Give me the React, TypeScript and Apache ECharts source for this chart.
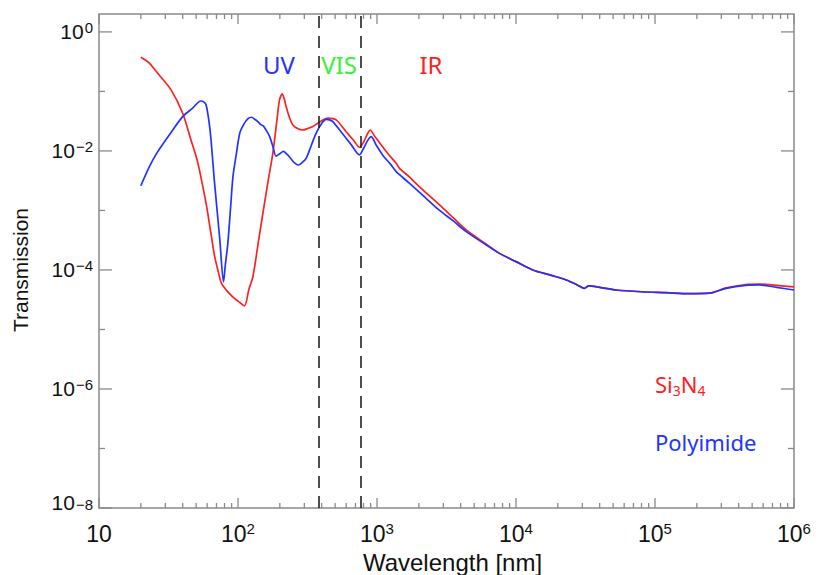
import React, { useEffect, useRef } from 'react';
import * as echarts from 'echarts';

// Si3N4 membrane transmission
const siWavelength = [20, 23, 27, 33, 40, 46, 51, 55, 59, 64, 68, 72, 76, 83, 92, 100, 111, 120, 128, 140, 151, 165, 178, 190, 199, 208, 215, 222, 235, 248, 270, 292, 320, 345, 390, 443, 508, 600, 680, 748, 800, 850, 893, 959, 1050, 1200, 1374, 1452, 1700, 2100, 2820, 3500, 4385, 6000, 7600, 10000, 13200, 18000, 23000, 28000, 31000, 33400, 40000, 52600, 80000, 120000, 177000, 246000, 325000, 450000, 565000, 750000, 1000000];
const siTransmission = [0.376, 0.3, 0.19, 0.106, 0.043, 0.015, 0.0068, 0.003, 0.0013, 4e-4, 1.67e-4, 9.5e-5, 6e-5, 4.5e-5, 3.5e-5, 3.0e-5, 2.5e-5, 4.8e-5, 7.7e-5, 2.9e-4, 8.9e-4, 3.2e-3, 9.1e-3, 0.031, 0.072, 0.091, 0.075, 0.056, 0.036, 0.0273, 0.0235, 0.0225, 0.024, 0.0257, 0.031, 0.0355, 0.0332, 0.021, 0.015, 0.0115, 0.014, 0.019, 0.0225, 0.0179, 0.0135, 0.009, 0.0062, 0.0051, 0.0037, 0.0023, 0.00124, 0.00077, 0.00047, 0.00028, 0.00019, 0.000138, 0.0001, 8.1e-5, 6.8e-5, 5.5e-5, 4.9e-5, 5.4e-5, 5.1e-5, 4.6e-5, 4.3e-5, 4.15e-5, 4.0e-5, 4.07e-5, 5.0e-5, 5.7e-5, 5.8e-5, 5.5e-5, 5.2e-5];

// Polyimide membrane transmission
const piWavelength = [20, 23, 26, 32, 40, 47, 54, 57, 59, 62, 64, 67, 70, 74, 78.7, 81, 84.5, 88, 92, 97, 103, 110, 118, 125, 132, 139, 145, 147, 152, 160, 169, 178, 188, 200, 212, 225, 238, 255, 272, 290, 310, 335, 365, 400, 431, 460, 481, 560, 650, 748, 800, 860, 908, 986, 1100, 1250, 1374, 1452, 1700, 2100, 2820, 3500, 4385, 6000, 7600, 10000, 13200, 18000, 23000, 28000, 31000, 33400, 40000, 52600, 80000, 120000, 177000, 246000, 325000, 450000, 565000, 750000, 1000000];
const piTransmission = [2.6e-3, 5.4e-3, 9.1e-3, 0.0185, 0.0377, 0.052, 0.069, 0.066, 0.059, 0.03, 0.0153, 4e-3, 1.3e-3, 3.2e-4, 6.3e-5, 1.2e-4, 2.8e-4, 9.5e-4, 3.7e-3, 8.5e-3, 0.02, 0.028, 0.035, 0.0368, 0.034, 0.031, 0.028, 0.0274, 0.0263, 0.022, 0.0174, 0.012, 0.0082, 0.009, 0.0098, 0.0088, 0.0076, 0.0063, 0.0058, 0.0064, 0.0076, 0.012, 0.02, 0.029, 0.034, 0.033, 0.031, 0.02, 0.0129, 0.0086, 0.011, 0.0152, 0.0174, 0.0126, 0.0085, 0.006, 0.0045, 0.004, 0.0029, 0.00186, 0.001, 0.00068, 0.00044, 0.00027, 0.00019, 0.000138, 0.0001, 8.1e-5, 6.8e-5, 5.5e-5, 4.9e-5, 5.4e-5, 5.1e-5, 4.6e-5, 4.3e-5, 4.15e-5, 4.0e-5, 4.07e-5, 4.9e-5, 5.5e-5, 5.6e-5, 5.1e-5, 4.6e-5];

// visible band boundaries (nm)
const regionBounds = [380, 760];

// axes
const xMajorTicks = [10, 100, 1000, 10000, 100000, 1000000];
const xTickSup = ['', '2', '3', '4', '5', '6'];
const xMinorTicks: number[] = [];
[10, 100, 1000, 10000, 100000].forEach((d) => {
  [2, 3, 4, 5, 6, 7, 8, 9].forEach((k) => xMinorTicks.push(k * d));
});
const yMin = 1e-8;
const yMax = 2;
const yMajorTicks = [1e-8, 1e-6, 1e-4, 1e-2, 1];
const yTickSup = ['\u22128', '\u22126', '\u22124', '\u22122', '0'];
const yMinorTicks = [1e-7, 1e-5, 1e-3, 1e-1];

const RED = '#ff2020';
const BLUE = '#2233ff';
const GREEN = '#3cef3c';
const AXIS = '#8a8a8a';
const TXT = '#111111';
const FONT = 'Liberation Sans';
const LFONT = 'Noto Sans';

const lg = Math.log10;
const findIdx = (arr: number[], v: number) =>
  v > 0 ? arr.findIndex((t) => Math.abs(lg(v) - lg(t)) < 1e-6) : -1;

export default function App() {
  const ref = useRef<HTMLDivElement>(null);
  useEffect(() => {
    document.body.style.margin = '0';
    const chart = echarts.init(ref.current!, null, { renderer: 'svg' });
    const tickData = [
      ...xMajorTicks.map((v) => [v, 1, 0]),
      ...xMinorTicks.map((v) => [v, 1, 1]),
      ...yMajorTicks.map((v) => [10, v, 2]),
      ...yMinorTicks.map((v) => [10, v, 3]),
    ];
    chart.setOption({
      animation: false,
      grid: {
        left: 99,
        top: 14,
        right: 23,
        bottom: 67,
        outerBoundsMode: 'none',
        containLabel: false,
        show: true,
        borderColor: AXIS,
        borderWidth: 1.5,
        backgroundColor: 'transparent',
      },
      xAxis: {
        type: 'log',
        logBase: 10,
        min: 10,
        max: 1000000,
        axisLine: { show: false, lineStyle: { color: TXT } },
        axisTick: { show: false },
        splitLine: { show: false },
        axisLabel: {
          margin: 13,
          interval: 0,
          color: TXT,
          formatter: (v: number) => {
            const i = findIdx(xMajorTicks, v);
            if (i < 0) return '';
            return xTickSup[i] ? `{b|10}{s|${xTickSup[i]}}` : '{b|10}';
          },
          rich: {
            b: { fontSize: 23, lineHeight: 25, fontFamily: FONT, color: TXT },
            s: { fontSize: 15, lineHeight: 15, fontFamily: FONT, color: TXT, verticalAlign: 'top' },
          },
        },
        name: 'Wavelength [nm]',
        nameLocation: 'middle',
        nameMoveOverlap: false,
        nameGap: 42,
        nameTextStyle: { fontSize: 24, fontFamily: FONT, color: TXT, padding: [0, 0, 0, 12] },
      },
      yAxis: {
        type: 'log',
        logBase: 10,
        min: yMin,
        max: yMax,
        axisLine: { show: false, lineStyle: { color: TXT } },
        axisTick: { show: false },
        splitLine: { show: false },
        axisLabel: {
          margin: 6,
          interval: 0,
          color: TXT,
          formatter: (v: number) => {
            const i = findIdx(yMajorTicks, v);
            if (i < 0) return '';
            if (i === 0) return `{b8|10}{s|${yTickSup[i]}}`;
            return `{b|10}{s|${yTickSup[i]}}`;
          },
          rich: {
            b: { fontSize: 21, lineHeight: 23, fontFamily: FONT, color: TXT },
            b8: { fontSize: 21, lineHeight: 23, fontFamily: FONT, color: TXT, padding: [0, 0, 12, 0] },
            s: { fontSize: 15, lineHeight: 15, fontFamily: FONT, color: TXT, verticalAlign: 'top', padding: [0, 0, 0, 1] },
          },
        },
        name: 'Transmission',
        nameLocation: 'middle',
        nameMoveOverlap: false,
        nameGap: 68,
        nameTextStyle: { fontSize: 21, fontFamily: FONT, color: TXT, padding: [0, 18, 0, 0] },
      },
      series: [
        {
          name: 'Si3N4',
          type: 'line',
          data: siWavelength.map((w, i) => [w, siTransmission[i]]),
          showSymbol: false,
          smooth: 0.3,
          lineStyle: { color: RED, width: 1.7 },
          itemStyle: { color: RED },
          z: 3,
          markLine: {
            silent: true,
            symbol: ['none', 'none'],
            label: { show: false },
            lineStyle: { color: '#222', width: 1.6, type: [12, 8] },
            data: regionBounds.map((b) => ({ xAxis: b })),
          },
        },
        {
          name: 'Polyimide',
          type: 'line',
          data: piWavelength.map((w, i) => [w, piTransmission[i]]),
          showSymbol: false,
          smooth: 0.3,
          lineStyle: { color: BLUE, width: 1.7 },
          itemStyle: { color: BLUE },
          z: 4,
        },
        {
          type: 'custom',
          silent: true,
          z: 6,
          encode: { x: 0, y: 1 },
          data: tickData,
          renderItem: (params: any, api: any) => {
            const kind = api.value(2);
            const p = api.coord([api.value(0), api.value(1)]);
            const cs = params.coordSys;
            const style = { stroke: AXIS, lineWidth: 1.3 };
            if (kind <= 1) {
              const len = kind === 0 ? 10 : 5;
              const b = cs.y + cs.height;
              const t = cs.y;
              return {
                type: 'group',
                children: [
                  { type: 'line', shape: { x1: p[0], y1: b, x2: p[0], y2: b - len }, style },
                  { type: 'line', shape: { x1: p[0], y1: t, x2: p[0], y2: t + len }, style },
                ],
              };
            }
            const len = kind === 2 ? 13 : 6;
            const l = cs.x;
            const r = cs.x + cs.width;
            return {
              type: 'group',
              children: [
                { type: 'line', shape: { x1: l, y1: p[1], x2: l + len, y2: p[1] }, style },
                { type: 'line', shape: { x1: r, y1: p[1], x2: r - len, y2: p[1] }, style },
              ],
            };
          },
        },
      ],
      graphic: [
        { type: 'text', x: 279, y: 64, style: { text: 'UV', fill: BLUE, fontSize: 24, fontFamily: LFONT, align: 'center', verticalAlign: 'middle' } },
        { type: 'text', x: 339, y: 64, style: { text: 'VIS', fill: GREEN, fontSize: 24, fontFamily: LFONT, align: 'center', verticalAlign: 'middle' } },
        { type: 'text', x: 431, y: 64, style: { text: 'IR', fill: RED, fontSize: 24, fontFamily: LFONT, align: 'center', verticalAlign: 'middle' } },
        {
          type: 'text',
          x: 655,
          y: 384,
          style: {
            text: '{a|Si}{s|3}{a|N}{s|4}',
            align: 'left',
            verticalAlign: 'middle',
            rich: {
              a: { fontSize: 22, lineHeight: 26, fontFamily: LFONT, fill: RED, color: RED },
              s: { fontSize: 14, lineHeight: 14, fontFamily: LFONT, fill: RED, color: RED, verticalAlign: 'bottom' },
            },
          },
        },
        { type: 'text', x: 655, y: 442, style: { text: 'Polyimide', fill: BLUE, fontSize: 22, fontFamily: LFONT, align: 'left', verticalAlign: 'middle' } },
      ],
    });
    return () => chart.dispose();
  }, []);
  return <div ref={ref} style={{ width: 817, height: 575 }} />;
}
